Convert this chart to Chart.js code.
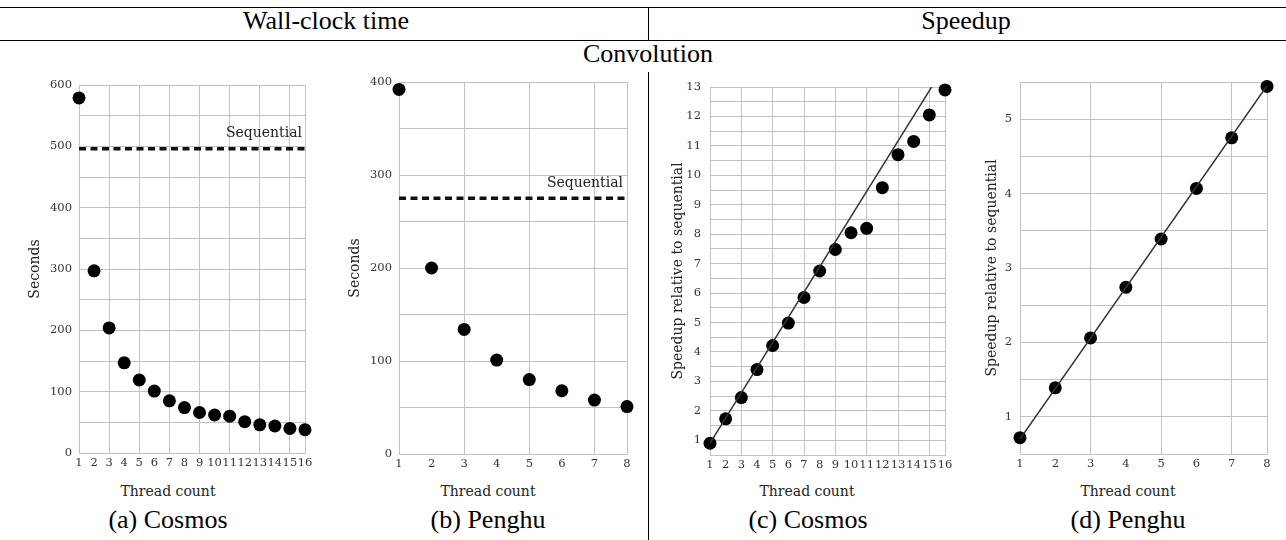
<!DOCTYPE html>
<html><head><meta charset="utf-8">
<script src="https://cdn.jsdelivr.net/npm/chart.js@4.4.1/dist/chart.umd.min.js"></script>
<style>
html,body{margin:0;padding:0;background:#fff;}
body{width:1286px;height:540px;position:relative;overflow:hidden;font-family:"Liberation Serif","Times New Roman",serif;}
.hl{position:absolute;left:0;width:1286px;height:1.5px;background:#000;}
.vl{position:absolute;width:1.5px;background:#000;}
.big{position:absolute;font-size:26px;line-height:1;white-space:nowrap;transform:translate(-50%,-50%);color:#000;}
.xt{position:absolute;font-family:"DejaVu Serif",serif;font-size:14px;line-height:1;white-space:nowrap;transform:translate(-50%,-50%);color:#222;}
canvas{position:absolute;}
</style></head><body>
<div class="hl" style="top:6.5px"></div>
<div class="hl" style="top:39.5px"></div>
<div class="vl" style="left:647.5px;top:7px;height:33px"></div>
<div class="vl" style="left:647.5px;top:72px;height:468px"></div>
<div class="big" style="left:326px;top:21.2px">Wall-clock time</div>
<div class="big" style="left:966px;top:21.2px">Speedup</div>
<div class="big" style="left:648px;top:54.2px">Convolution</div>

<canvas id="ca"></canvas>
<canvas id="cb"></canvas>
<canvas id="cc"></canvas>
<canvas id="cd"></canvas>

<div class="xt" style="left:168px;top:491px">Thread count</div>
<div class="xt" style="left:488px;top:491px">Thread count</div>
<div class="xt" style="left:807px;top:491px">Thread count</div>
<div class="xt" style="left:1128px;top:491px">Thread count</div>

<div class="big" style="left:168px;top:520px">(a) Cosmos</div>
<div class="big" style="left:488px;top:520px">(b) Penghu</div>
<div class="big" style="left:808px;top:520px">(c) Cosmos</div>
<div class="big" style="left:1128px;top:520px">(d) Penghu</div>

<script>
// ---------- data ----------
const threadsCosmos = [1,2,3,4,5,6,7,8,9,10,11,12,13,14,15,16];
const threadsPenghu = [1,2,3,4,5,6,7,8];

const cosmosTime = [579,297,204,147,119,101,85,74,66,62,60,51,46,44,40,38];
const penghuTime = [392,200,134,101,80,68,58,51];
const cosmosSequential = 496;
const penghuSequential = 275;

const cosmosSpeedup = [0.9,1.73,2.45,3.4,4.22,4.98,5.85,6.75,7.48,8.05,8.2,9.58,10.7,11.15,12.05,12.9];
const penghuSpeedup = [0.72,1.39,2.06,2.74,3.39,4.07,4.75,5.44];

const cosmosIdealX = [1,16];
const cosmosIdealY = [0.9,13.73];
const penghuIdealX = [1,8];
const penghuIdealY = [0.7,5.45];

const cosmosTimeTicks = [0,100,200,300,400,500,600];
const penghuTimeTicks = [0,100,200,300,400];
const cosmosSpeedupTicks = [1,2,3,4,5,6,7,8,9,10,11,12,13];
const penghuSpeedupTicks = [1,2,3,4,5];

// ---------- styling ----------
const GRID = '#c2c2c2';
const TICK_FONT = {family:'DejaVu Serif', size:11.5};
const TITLE_FONT = {family:'DejaVu Serif', size:14};

const seqLabelPlugin = {
  id:'seqLabel',
  afterDatasetsDraw(chart, args, opts){
    if(!opts || !opts.text) return;
    const meta = chart.getDatasetMeta(opts.datasetIndex);
    const last = meta.data[meta.data.length-1];
    const ctx = chart.ctx;
    ctx.save();
    ctx.font = '14px "DejaVu Serif"';
    ctx.fillStyle = '#222';
    ctx.textAlign = 'right';
    ctx.textBaseline = 'middle';
    ctx.fillText(opts.text, chart.chartArea.right - opts.inset, last.y - opts.rise);
    ctx.restore();
  }
};

function pts(xs, ys){ return xs.map((x,i)=>({x:x, y:ys[i]})); }

function makePanel(id, geo, xs, yInfo, yTitle, datasets, seq){
  const cv = document.getElementById(id);
  cv.width = geo.W; cv.height = geo.H;
  cv.style.left = geo.L+'px'; cv.style.top = geo.T+'px';
  const lh = TITLE_FONT.size*1.2;
  const padLeft = geo.yTitleX - geo.L - lh/2;
  const yWidth = geo.area.l - geo.L - padLeft;
  const xHeight = geo.H - (geo.area.b - geo.T);
  const xMax = xs[xs.length-1];
  const plugins = seq ? [seqLabelPlugin] : [];
  new Chart(cv, {
    type:'scatter',
    data:{datasets:datasets},
    plugins:plugins,
    options:{
      responsive:false, animation:false, devicePixelRatio:1,
      layout:{padding:{left:padLeft, top:geo.area.t-geo.T, right:geo.L+geo.W-geo.area.r, bottom:0}},
      plugins:{legend:{display:false}, tooltip:{enabled:false}, seqLabel: seq || false},
      scales:{
        x:{type:'linear', min:xs[0], max:xMax,
          ticks:{stepSize:1, autoSkip:false, maxRotation:0, minRotation:0, padding:3, color:'#333', font:TICK_FONT,
            callback:v=>xs.includes(v)?String(v):''},
          grid:{drawTicks:false, lineWidth:1,
            color:c=>(c.tick && (c.tick.value%2===1 || c.tick.value===xMax)) ? GRID : 'rgba(0,0,0,0)'},
          border:{color:GRID, width:1},
          afterFit(s){ s.height = xHeight; s.paddingLeft = 0; s.paddingRight = 0; }
        },
        y:{type:'linear', min:yInfo.min, max:yInfo.max,
          ticks:{stepSize:yInfo.step, autoSkip:false, padding:yInfo.pad, color:'#333', font:TICK_FONT,
            callback:v=>yInfo.labels.includes(v)?String(v):''},
          grid:{drawTicks:false, lineWidth:1, color:GRID},
          border:{color:GRID, width:1},
          title:{display:true, text:yTitle, color:'#222', font:TITLE_FONT, padding:0},
          afterFit(s){ s.width = yWidth; s.paddingTop = 0; s.paddingBottom = 0; }
        }
      }
    }
  });
}

const dotStyle = {showLine:false, pointRadius:6.5, pointHoverRadius:6.5, pointBackgroundColor:'#000', pointBorderWidth:0, clip:false};
const seqStyle = {showLine:true, pointRadius:0, borderColor:'#111', borderWidth:3.5, borderDash:[7,4.5], clip:false};
const idealStyle = {showLine:true, pointRadius:0, borderColor:'#333', borderWidth:1.5, clip:0};

// (a) Cosmos wall-clock
makePanel('ca', {L:0, T:72, W:320, H:406, area:{l:79, r:305, t:85, b:453}, yTitleX:35},
  threadsCosmos, {min:0, max:600, step:50, labels:cosmosTimeTicks, pad:7}, 'Seconds',
  [
    Object.assign({label:'Time', data:pts(threadsCosmos, cosmosTime)}, dotStyle),
    Object.assign({label:'Sequential', data:pts([threadsCosmos[0], threadsCosmos[threadsCosmos.length-1]], [cosmosSequential, cosmosSequential])}, seqStyle)
  ],
  {text:'Sequential', datasetIndex:1, inset:3, rise:15.5});

// (b) Penghu wall-clock
makePanel('cb', {L:330, T:72, W:310, H:407, area:{l:399, r:627, t:82, b:454}, yTitleX:355},
  threadsPenghu, {min:0, max:400, step:50, labels:penghuTimeTicks, pad:7}, 'Seconds',
  [
    Object.assign({label:'Time', data:pts(threadsPenghu, penghuTime)}, dotStyle),
    Object.assign({label:'Sequential', data:pts([threadsPenghu[0], threadsPenghu[threadsPenghu.length-1]], [penghuSequential, penghuSequential])}, seqStyle)
  ],
  {text:'Sequential', datasetIndex:1, inset:4, rise:14.5});

// (c) Cosmos speedup
makePanel('cc', {L:655, T:72, W:300, H:408, area:{l:710, r:945, t:87, b:455}, yTitleX:678},
  threadsCosmos, {min:0.5, max:13, step:0.5, labels:cosmosSpeedupTicks, pad:9}, 'Speedup relative to sequential',
  [
    Object.assign({label:'Ideal', data:pts(cosmosIdealX, cosmosIdealY)}, idealStyle),
    Object.assign({label:'Speedup', data:pts(threadsCosmos, cosmosSpeedup)}, dotStyle)
  ], null);

// (d) Penghu speedup
makePanel('cd', {L:965, T:72, W:315, H:407, area:{l:1020, r:1267, t:82, b:454}, yTitleX:992},
  threadsPenghu, {min:0.5, max:5.5, step:0.5, labels:penghuSpeedupTicks, pad:8}, 'Speedup relative to sequential',
  [
    Object.assign({label:'Ideal', data:pts(penghuIdealX, penghuIdealY)}, idealStyle),
    Object.assign({label:'Speedup', data:pts(threadsPenghu, penghuSpeedup)}, dotStyle)
  ], null);
</script>
</body></html>
